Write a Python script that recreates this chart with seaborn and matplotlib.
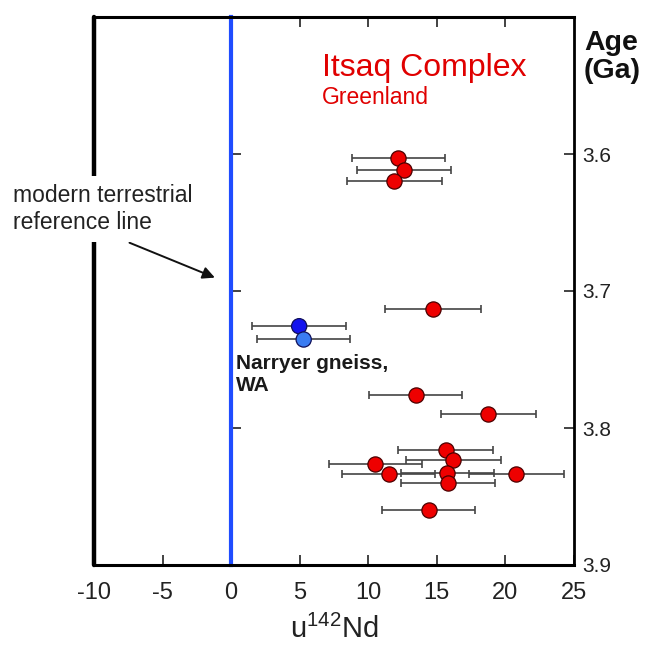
import matplotlib
matplotlib.use("Agg")
import matplotlib.pyplot as plt
import seaborn as sns
import pandas as pd

# ---- data ----
itsaq_nd = [12.2, 12.6, 11.9, 14.7, 13.45, 18.75, 15.65, 16.2, 10.5, 11.5, 15.75, 20.8, 15.8, 14.4]
itsaq_age = [3.603, 3.612, 3.620, 3.7135, 3.776, 3.790, 3.816, 3.8235, 3.826, 3.8335, 3.833, 3.8335, 3.8405, 3.860]
itsaq_err = [3.4, 3.45, 3.45, 3.5, 3.4, 3.45, 3.45, 3.45, 3.4, 3.4, 3.4, 3.45, 3.45, 3.4]

narryer_nd = [4.96, 5.29]
narryer_age = [3.7257, 3.7354]
narryer_err = [3.45, 3.4]
narryer_id = ["N1", "N2"]

x_ticks = [-10, -5, 0, 5, 10, 15, 20, 25]
top_ticks = [5, 10, 15, 20]
y_ticks = [3.6, 3.7, 3.8, 3.9]

itsaq = pd.DataFrame({"nd": itsaq_nd, "age": itsaq_age, "err": itsaq_err})
narryer = pd.DataFrame({"nd": narryer_nd, "age": narryer_age, "err": narryer_err, "id": narryer_id})

sns.set_style("ticks")
plt.rcParams["font.family"] = ["Liberation Sans", "DejaVu Sans"]
plt.rcParams["mathtext.default"] = "regular"

fig = plt.figure(figsize=(6.52, 6.51), dpi=100)
ax = fig.add_axes([94 / 652, 1 - 565 / 651, (574 - 94) / 652, (565 - 17) / 651])

ebar_kw = dict(fmt="none", ecolor="#444444", elinewidth=1.2, capsize=3, capthick=1.2, zorder=2)
ax.errorbar(itsaq["nd"], itsaq["age"], xerr=itsaq["err"], **ebar_kw)
ax.errorbar(narryer["nd"], narryer["age"], xerr=narryer["err"], **ebar_kw)

sns.scatterplot(data=itsaq, x="nd", y="age", color="#ee0000", edgecolor="#4a0000",
                linewidth=0.9, s=120, ax=ax, zorder=3, legend=False)
sns.scatterplot(data=narryer, x="nd", y="age", hue="id", palette=["#1414ee", "#3a7cf2"],
                edgecolor="#10105a", linewidth=0.9, s=120, ax=ax, zorder=3, legend=False)

ax.set_xlim(-10, 25)
ax.set_ylim(3.9, 3.5)

# reference line at 0 (drawn as the left spine, carrying the small left ticks)
ax.spines["left"].set_position(("data", 0))
ax.spines["left"].set_color("#1f4cff")
ax.spines["left"].set_linewidth(3)
ax.spines["left"].set_zorder(1)
for s in ["top", "right", "bottom"]:
    ax.spines[s].set_color("black")
ax.spines["top"].set_linewidth(2.2)
ax.spines["right"].set_linewidth(2)
ax.spines["bottom"].set_linewidth(2.2)

# outer black frame line at the left edge
ax.axvline(-10, color="black", lw=3.2, zorder=1, clip_on=False)

ax.set_xticks(x_ticks)
ax.set_xticklabels([str(t) for t in x_ticks])
ax.set_yticks(y_ticks)
ax.set_yticklabels([f"{t:.1f}" for t in y_ticks])
ax.tick_params(axis="x", direction="in", top=False, bottom=True, length=7, width=1.2,
               labelsize=17, pad=12, colors="#222222")
ax.tick_params(axis="y", direction="in", left=True, right=True, labelleft=False,
               labelright=True, length=7, width=1.2, labelsize=15, pad=6, colors="#222222")

# top ticks only to the right of the reference line
sec = ax.secondary_xaxis("top")
sec.set_xticks(top_ticks)
sec.tick_params(axis="x", direction="in", length=7, width=1.2, labeltop=False, colors="#222222")
sec.spines["top"].set_visible(False)

ax.set_xlabel("u$^{142}$Nd", fontsize=21, labelpad=8, color="#222222")
ax.set_ylabel("")

ax.text(6.6, 3.537, "Itsaq Complex", color="#e00000", fontsize=23, ha="left", va="center")
ax.text(6.6, 3.559, "Greenland", color="#e00000", fontsize=16.5, ha="left", va="center")
ax.text(0.35, 3.761, "Narryer gneiss,\nWA", color="#1a1a1a", fontsize=15, fontweight="bold",
        ha="left", va="center", linespacing=1.25)
fig.text(584 / 652, 1 - 57 / 651, "Age\n(Ga)", fontsize=20.5, fontweight="bold", color="#111111",
         ha="left", va="center", linespacing=1.15)

ax.text(-15.9, 3.64, "modern terrestrial\nreference line", fontsize=16.5, color="#222222",
        ha="left", va="center", linespacing=1.2, clip_on=False, zorder=5,
        bbox=dict(facecolor="white", edgecolor="none", pad=6))
ax.annotate("", xy=(-1.0, 3.691), xytext=(-7.6, 3.664), annotation_clip=False,
            arrowprops=dict(arrowstyle="-|>", color="#111111", lw=1.4, mutation_scale=18))

fig.savefig("out.png", dpi=100, facecolor="white")
